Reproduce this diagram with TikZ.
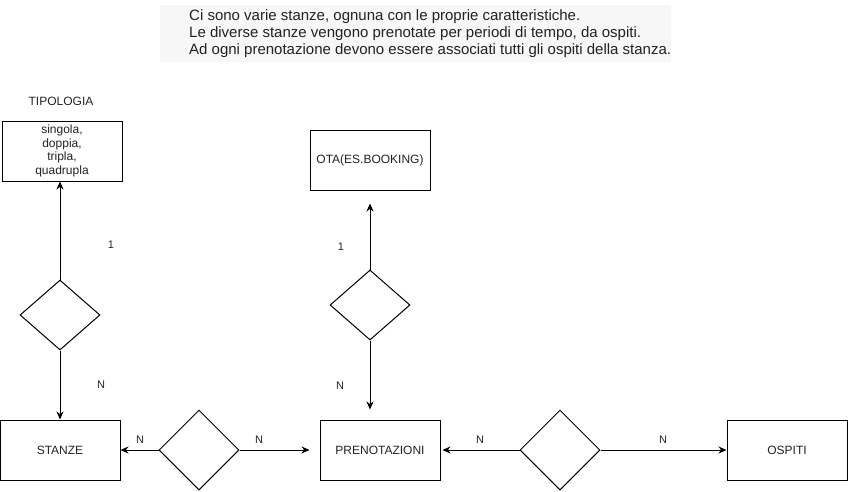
\documentclass[tikz,border=0pt]{standalone}
\usepackage{fontspec}
\setmainfont{Liberation Sans}
\usepackage{tikz}
\usetikzlibrary{arrows.meta,positioning,shapes.geometric}
\definecolor{ink}{HTML}{222222}
\definecolor{paper}{HTML}{F7F7F7}

\tikzset{
  entity/.style={draw=black,line width=1pt,minimum width=120pt,minimum height=60pt,inner sep=0pt,text=ink,font=\fontsize{12}{14}\selectfont},
  relation/.style={draw=black,line width=1pt,diamond,minimum width=80pt,minimum height=70pt,inner sep=0pt},
  card/.style={text=ink,font=\fontsize{11}{13}\selectfont,inner sep=0pt},
}

\begin{document}
\begin{tikzpicture}[x=1pt,y=-1pt,>={Stealth[length=8pt,width=7pt]}]
  \useasboundingbox (0,0) rectangle (848,491);
  % note on top
  \fill[paper] (160,5) rectangle (671,62);
  \node[anchor=west,align=left,inner sep=0pt,text=ink,font=\fontsize{15}{17}\selectfont] (note) at (189,34)
    {Ci sono varie stanze, ognuna con le proprie caratteristiche.\\Le diverse stanze vengono prenotate per periodi di tempo, da ospiti.\\Ad ogni prenotazione devono essere associati tutti gli ospiti della stanza.};

  % entities
  \node[card,font=\fontsize{12}{14}\selectfont] (tipolabel) at (61,101) {TIPOLOGIA};
  \node[entity,align=center,font=\fontsize{12}{13.5}\selectfont] (tipo) at (62,151) {singola,\\doppia,\\tripla,\\quadrupla};
  \node[entity] (stanze) at (60,450) {STANZE};
  \node[entity] (ota) at (370,160) {OTA(ES.BOOKING)};
  \node[entity] (pren) at (380,450) {PRENOTAZIONI};
  \node[entity] (ospiti) at (787,450) {OSPITI};

  % relations
  \node[relation] (rtipo) at (60,315) {};
  \node[relation] (rota) at (370,305) {};
  \node[relation,minimum height=80pt] (rstanze) at (199,450) {};
  \node[relation,minimum height=80pt] (rospiti) at (560,450) {};

  % connectors
  \draw[->,line width=1pt] (rtipo.north) -- (rtipo.north |- tipo.south);
  \draw[->,line width=1pt] (rtipo.south) -- (stanze.north);
  \draw[->,line width=1pt] (rstanze.west) -- (stanze.east);
  \draw[->,line width=1pt,shorten >=10pt] (rstanze.east) -- (pren.west);
  \draw[->,line width=1pt,shorten >=13pt] (rota.north) -- (ota.south);
  \draw[->,line width=1pt,shorten >=10pt] (rota.south) -- (pren.north -| rota.south);
  \draw[->,line width=1pt,shorten >=2pt] (rospiti.west) -- (pren.east);
  \draw[->,line width=1pt] (rospiti.east) -- (ospiti.west);

  % cardinalities
  \node[card] (c1) at (111,245) {1};
  \node[card] (c2) at (101,385) {N};
  \node[card] (c3) at (140,440) {N};
  \node[card] (c4) at (259,440) {N};
  \node[card] (c5) at (341,247) {1};
  \node[card] (c6) at (340,386) {N};
  \node[card] (c7) at (480,440) {N};
  \node[card] (c8) at (663,440) {N};
\end{tikzpicture}
\end{document}
